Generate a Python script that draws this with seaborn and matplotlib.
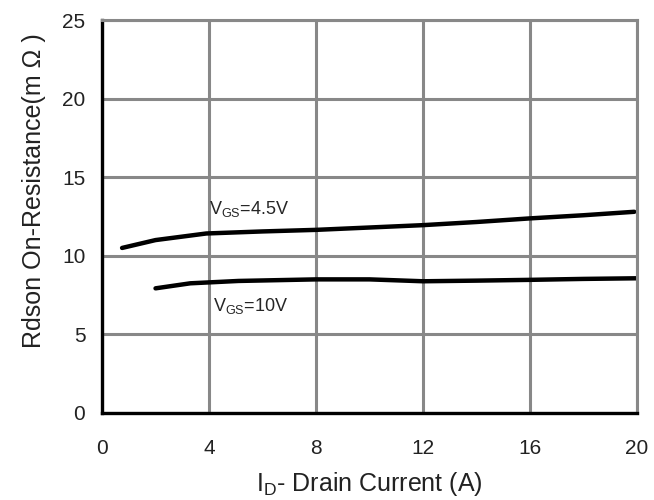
import matplotlib
matplotlib.use("Agg")
import matplotlib.pyplot as plt
import seaborn as sns
import pandas as pd

# values
id_45 = [0.75, 2.0, 3.9, 6.0, 8.0, 10.0, 12.0, 14.0, 16.0, 18.0, 19.9]
rds_45 = [10.5, 11.0, 11.42, 11.55, 11.65, 11.8, 11.95, 12.15, 12.38, 12.58, 12.8]
id_10 = [2.0, 3.3, 5.1, 8.0, 10.0, 12.0, 14.0, 16.0, 18.0, 20.0]
rds_10 = [7.93, 8.25, 8.4, 8.5, 8.5, 8.38, 8.42, 8.47, 8.53, 8.57]
x_ticks = [0, 4, 8, 12, 16, 20]
y_ticks = [0, 5, 10, 15, 20, 25]

df = pd.concat([
    pd.DataFrame({"id": id_45, "rds": rds_45, "vgs": "4.5V"}),
    pd.DataFrame({"id": id_10, "rds": rds_10, "vgs": "10V"}),
])

sns.set_style("white")
plt.rcParams["font.family"] = ["Liberation Sans", "DejaVu Sans"]
plt.rcParams["mathtext.default"] = "regular"

fig = plt.figure(figsize=(6.54, 5.0), dpi=100)
ax = fig.add_axes([0.156, 0.174, 0.818, 0.786])

sns.lineplot(data=df, x="id", y="rds", hue="vgs", palette=["black", "black"],
             linewidth=3.2, legend=False, ax=ax, sort=True)

ax.set_xlim(0, 20)
ax.set_ylim(0, 25)
ax.set_xticks(x_ticks)
ax.set_yticks(y_ticks)
ax.grid(True, color="#888888", linewidth=2.2)
ax.set_axisbelow(True)
ax.tick_params(axis="both", length=0, labelsize=15, colors="#222222")
ax.tick_params(axis="y", pad=12)
ax.tick_params(axis="x", pad=19)

for side in ["top", "right"]:
    ax.spines[side].set_color("#888888")
    ax.spines[side].set_linewidth(2.2)
for side in ["left", "bottom"]:
    ax.spines[side].set_color("black")
    ax.spines[side].set_linewidth(2.4)

ax.text(4.0, 13.0, r"V$_{GS}$=4.5V", fontsize=13, va="center", ha="left")
ax.text(4.15, 6.8, r"V$_{GS}$=10V", fontsize=13, va="center", ha="left")

ax.set_xlabel(r"I$_{D}$- Drain Current (A)", fontsize=18, labelpad=8, color="#222222")
ax.set_ylabel("Rdson On-Resistance(m Ω )", fontsize=18, color="#222222")
ax.yaxis.set_label_coords(-0.105, 0.565)

fig.savefig("out.png", dpi=100)
